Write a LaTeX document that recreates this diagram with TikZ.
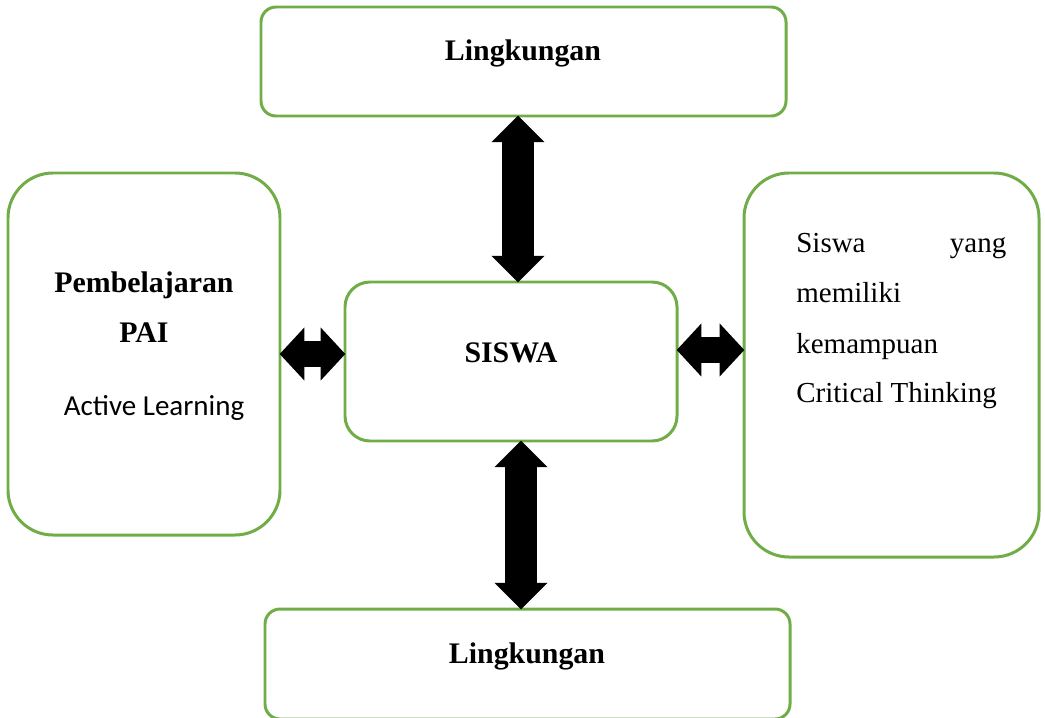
\documentclass[tikz,border=0pt]{standalone}
\usepackage{fontspec}
\setmainfont{Liberation Serif}
\newfontfamily\calibri{Carlito}
\usetikzlibrary{arrows.meta}
\definecolor{boxgreen}{RGB}{112,173,71}
\newcommand{\pxu}{0.02cm}

\begin{document}
\begin{tikzpicture}[x=0.02cm, y=-0.02cm]
    \useasboundingbox (0,0) rectangle (1045,717);

    \begin{scope}[every node/.style={draw=boxgreen, line width=1.7pt, fill=white, inner sep=0pt}]
        \node[minimum width=525*\pxu, minimum height=109*\pxu, rounded corners=15*\pxu] (top) at (523.5,61.5) {};
        \node[minimum width=272*\pxu, minimum height=362*\pxu, rounded corners=45*\pxu] (left) at (144,354) {};
        \node[minimum width=332*\pxu, minimum height=159*\pxu, rounded corners=25*\pxu] (mid) at (511,361.5) {};
        \node[minimum width=295*\pxu, minimum height=384*\pxu, rounded corners=45*\pxu] (right) at (891.5,365) {};
        \node[minimum width=525*\pxu, minimum height=110*\pxu, rounded corners=15*\pxu] (bottom) at (527.5,664) {};
    \end{scope}

    \begin{scope}[every node/.style={inner sep=0pt, font=\fontsize{16.5}{20}\selectfont}]
        \node[anchor=base, font=\fontsize{17}{20}\selectfont\bfseries] (toplabel) at (523,60) {Lingkungan};
        \node[anchor=base, font=\fontsize{17}{20}\selectfont\bfseries] (botlabel) at (527,663) {Lingkungan};
        \node[anchor=base, font=\fontsize{17}{20}\selectfont\bfseries] (midlabel) at (511,362) {SISWA};
        \node[anchor=base, font=\fontsize{17}{20}\selectfont\bfseries] (pbl) at (144,292) {Pembelajaran};
        \node[anchor=base, font=\fontsize{17}{20}\selectfont\bfseries] (pai) at (144,342) {PAI};
        \node[anchor=base, font=\fontsize{16.5}{20}\selectfont\calibri] (active) at (154,415) {Active Learning};
        \node[anchor=base west, text width=210*\pxu] (r1) at (796,252) {Siswa\hfill yang};
        \node[anchor=base west] (r2) at (796,302) {memiliki};
        \node[anchor=base west] (r3) at (796,353) {kemampuan};
        \node[anchor=base west] (r4) at (796,402) {Critical Thinking};
    \end{scope}

    \begin{scope}[every edge/.style={draw, black}]
        \path [{Triangle[width=30pt, length=15pt, line width=1pt]}-{Triangle[width=30pt, length=15pt, line width=1pt]}, line width=18.7pt]
            ([xshift=-5.5*\pxu, yshift=1pt]top.south) edge ([xshift=7*\pxu, yshift=-1pt]mid.north)
            ([xshift=10*\pxu, yshift=1pt]mid.south) edge ([xshift=-6.5*\pxu, yshift=-1pt]bottom.north);
        \path [{Triangle[width=30pt, length=14pt, line width=1pt]}-{Triangle[width=30pt, length=14pt, line width=1pt]}, line width=15.3pt]
            ([xshift=-1pt]left.east) edge ([xshift=1pt]left.east -| mid.west)
            ([xshift=-1pt, yshift=11.5*\pxu]mid.east) edge ([xshift=1pt, yshift=11.5*\pxu]mid.east -| right.west);
    \end{scope}
\end{tikzpicture}
\end{document}
